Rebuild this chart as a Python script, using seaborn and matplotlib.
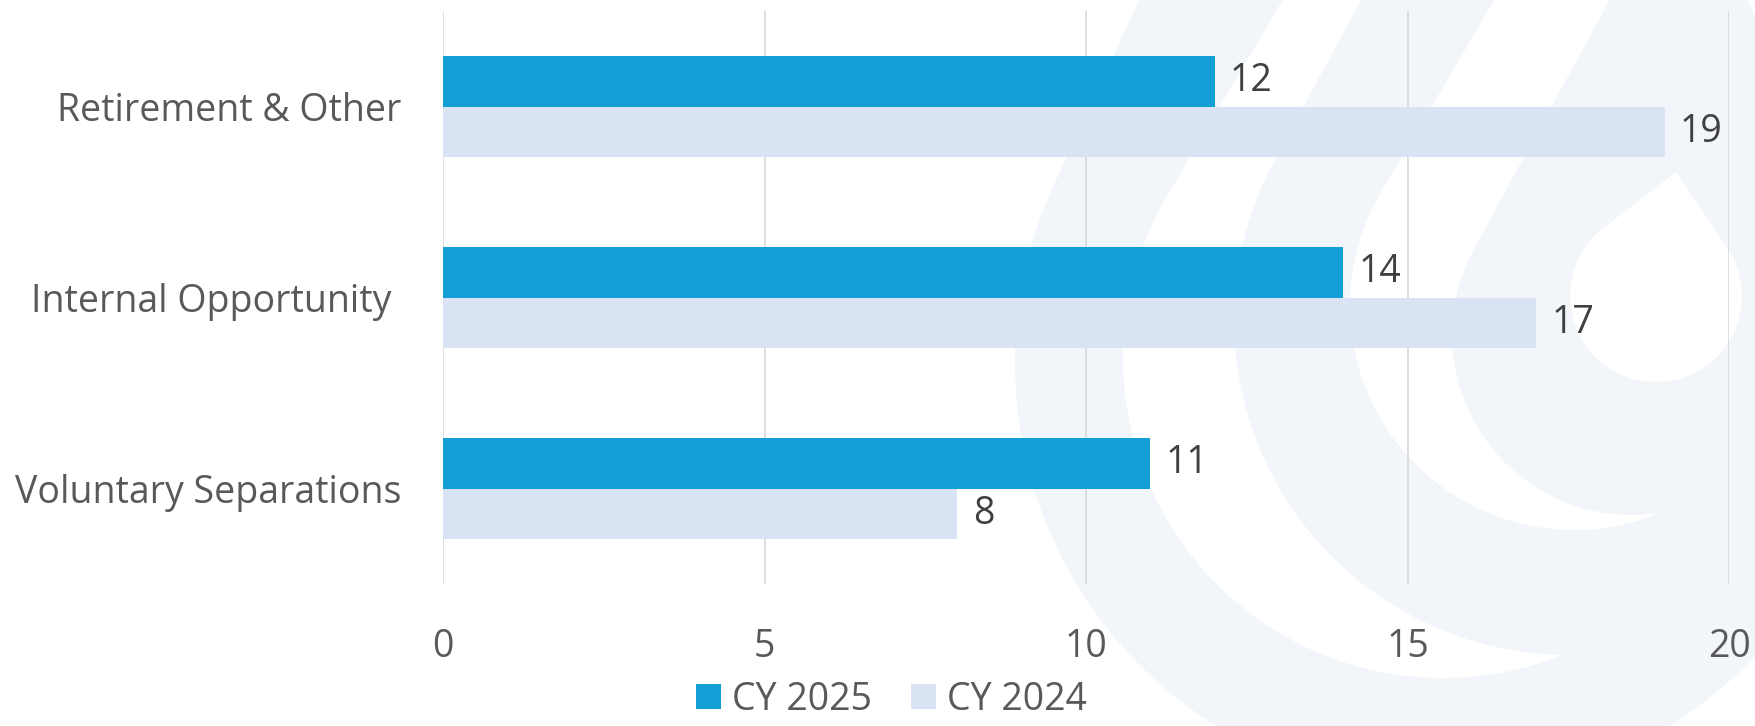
import numpy as np
import pandas as pd
import matplotlib
matplotlib.use("Agg")
import matplotlib.pyplot as plt
from matplotlib.patches import Polygon, Patch
import seaborn as sns

# Separation reasons, counts per calendar year
categories = ["Retirement & Other", "Internal Opportunity ", "Voluntary Separations"]
years = ["CY 2025", "CY 2024"]
cy2025 = [12, 14, 11]
cy2024 = [19, 17, 8]
x_ticks = [0, 5, 10, 15, 20]

BLUE = "#119FD6"
LIGHT = "#DAE3F3"
TEXT = "#595959"
LABEL = "#404040"
GRID = "#D9D9D9"
MARK = "#F2F5F9"
FS = 27

df = pd.DataFrame({
    "Reason": categories * 2,
    "Year": [years[0]] * 3 + [years[1]] * 3,
    "Count": cy2025 + cy2024,
})

sns.set_theme(style="white")
plt.rcParams["font.family"] = ["Open Sans", "DejaVu Sans"]

W, H = 1755, 726
fig = plt.figure(figsize=(W / 100, H / 100), dpi=100)
fig.patch.set_facecolor("white")

# Background logo: nested drop shapes in pixel coordinates
bg = fig.add_axes([0, 0, 1, 1], zorder=0)
bg.set_xlim(0, W)
bg.set_ylim(H, 0)
bg.axis("off")


def drop(cx, cy, r, tx, ty, n=200):
    dx, dy = tx - cx, ty - cy
    d = np.hypot(dx, dy)
    phi = np.arctan2(dy, dx)
    a = np.arccos(r / d)
    t = np.linspace(phi + a, phi + 2 * np.pi - a, n)
    pts = [(tx, ty)] + list(zip(cx + r * np.cos(t), cy + r * np.sin(t)))
    return np.array(pts)


def drop_wide(cx, cy, r, tx, ty, n=200):
    # drop shape that also fills everything to its right above the centre
    pts = drop(cx, cy, r, tx, ty, n)
    t_right = pts[1]
    extra = [(tx, ty), (2200, ty), (2200, cy), (cx + r, cy)]
    dx, dy = tx - cx, ty - cy
    phi = np.arctan2(dy, dx)
    a = np.arccos(r / np.hypot(dx, dy))
    t = np.linspace(0, (phi + a) % (2 * np.pi) - 2 * np.pi, 60)
    arc = list(zip(cx + r * np.cos(t), cy + r * np.sin(t)))
    return [np.array(pts), np.array(extra + arc + [tuple(t_right)])]


outer = Polygon(drop(1443, 363, 428, 1443, -660), closed=True,
                facecolor=MARK, edgecolor="none")
bg.add_patch(outer)
layers = [
    ([drop(1443, 358, 320, 1443, -272)], "white"),
    ([drop(1569, 320, 335, 1569, -385)], MARK),
    ([drop(1574, 306, 224, 1574, -135)], "white"),
    (drop_wide(1632, 335, 180, 1632, -41), MARK),
    ([drop(1656, 296, 86, 1676, 172)], "white"),
]
for shapes, col in layers:
    for pts in shapes:
        p = Polygon(pts, closed=True, facecolor=col, edgecolor="none")
        bg.add_patch(p)
        p.set_clip_path(outer)

# Main bar chart
ax = fig.add_axes([443 / W, 1 - 584 / H, (1729 - 443) / W, (584 - 11) / H], zorder=1)
ax.set_facecolor("none")

sns.barplot(data=df, y="Reason", x="Count", hue="Year", hue_order=years,
            palette=[BLUE, LIGHT], orient="h", width=0.524, linewidth=0,
            saturation=1, legend=False, ax=ax)

ax.set_xlim(0, 20)
ax.set_ylim(2.5, -0.5)
ax.set_xticks(x_ticks)
ax.set_xticklabels([str(v) for v in x_ticks])
ax.set_xlabel("")
ax.set_ylabel("")
ax.grid(axis="x", color=GRID, linewidth=1.2)
ax.grid(axis="y", visible=False)
ax.set_axisbelow(True)
for s in ax.spines.values():
    s.set_visible(False)
ax.tick_params(axis="x", length=0, pad=32, labelsize=FS, labelcolor=TEXT)
ax.tick_params(axis="y", length=0, pad=30, labelsize=FS, labelcolor=TEXT)

for cont in ax.containers:
    ax.bar_label(cont, padding=11, fontsize=FS, color=LABEL)

handles = [Patch(facecolor=BLUE, edgecolor="none"), Patch(facecolor=LIGHT, edgecolor="none")]
fig.legend(handles, years, loc="center", bbox_to_anchor=(0.508, 1 - 700 / H),
           ncol=2, frameon=False, fontsize=FS, labelcolor=TEXT,
           handlelength=0.65, handleheight=0.65, handletextpad=0.3,
           columnspacing=1.05, borderpad=0, borderaxespad=0)

fig.savefig("out.png", dpi=100, facecolor="white")
